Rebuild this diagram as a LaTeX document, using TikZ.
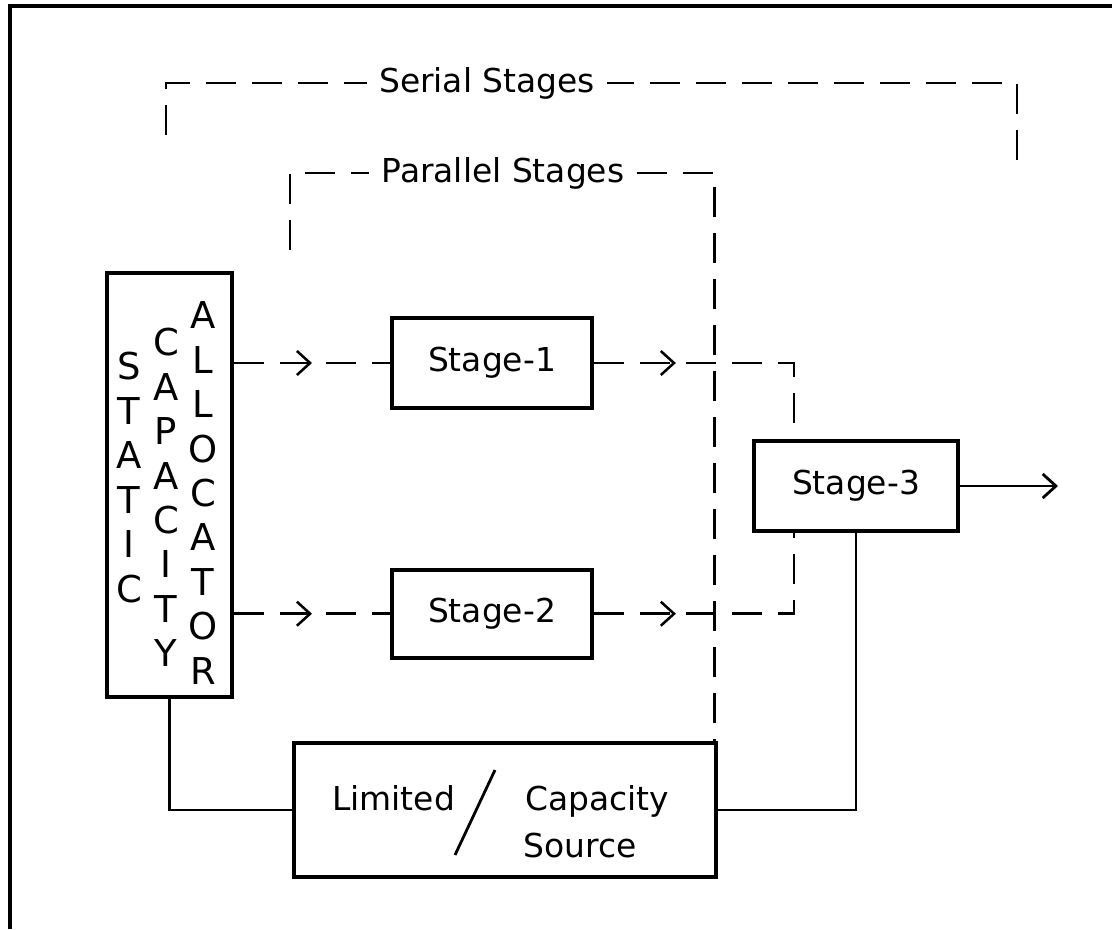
\documentclass[tikz,border=0pt]{standalone}
\usepackage{fontspec}
\setmainfont{DejaVu Sans}
\usetikzlibrary{arrows.meta, positioning, decorations.markings}

\tikzset{midarr/.style={postaction={decorate},
    decoration={markings, mark=at position #1 with {\arrow{Straight Barb[length=3.3mm, width=6mm]}}}}}

\begin{document}
\begin{tikzpicture}[x=0.025cm, y=-0.025cm]
    \tikzstyle{box} = [rectangle, draw=black, line width=2.6pt, inner sep=0pt,
                       font=\fontsize{23.4}{33}\selectfont]
    \tikzstyle{lbl} = [inner ysep=0pt, inner xsep=0.3cm, font=\fontsize{23.4}{33}\selectfont]
    \tikzstyle{letters} = [inner sep=0pt, align=center, font=\fontsize{26.3}{31.6}\selectfont]
    \tikzstyle{wire} = [line width=2pt]
    \tikzstyle{dashline} = [line width=1.8pt, dash pattern=on 0.75cm off 0.4cm]

    \useasboundingbox (0,0) rectangle (1112,929);
    \draw[line width=3pt] (10,929) -- (10,6) -- (1112,6);

    % allocator
    \node (alloc) [box, minimum width=3.125cm, minimum height=10.6cm] at (169.5,485) {};
    \node (allocS) [letters] at (129,477.5) {S\\T\\A\\T\\I\\C};
    \node (allocC) [letters] at (166,497.5) {C\\A\\P\\A\\C\\I\\T\\Y};
    \node (allocA) [letters] at (203,493) {A\\L\\L\\O\\C\\A\\T\\O\\R};

    % stages
    \node (stage1) [box, minimum width=5cm, minimum height=2.25cm] at (492,363) {Stage-1};
    \node (stage2) [box, minimum width=5cm, minimum height=2.2cm, below=3.95cm of stage1] {Stage-2};
    \node (stage3) [box, minimum width=5.1cm, minimum height=2.25cm] at (856,486) {Stage-3};

    % source
    \node (source) [box, minimum width=10.55cm, minimum height=3.35cm] at (505,810) {};
    \node (limited)  [lbl, inner xsep=0pt, anchor=base west] at (332,810) {Limited};
    \node (capacity) [lbl, inner xsep=0pt, anchor=base west] at (525,810) {Capacity};
    \node (srcword)  [lbl, inner xsep=0pt, anchor=base west] at (523,857) {Source};
    \draw[wire] (455,855) -- (495,770);

    % brackets
    \node (serial)   [lbl] at (487,83)  {Serial Stages};
    \node (parallel) [lbl] at (503,173) {Parallel Stages};
    \coordinate (serialL)   at (166,135);
    \coordinate (serialR)   at (1017,160);
    \coordinate (parallelL) at (290,250);
    \draw[dashline] (serialL) |- (serial.west);
    \draw[dashline] (serialR) |- (serial.east);
    \draw[dashline] (parallelL) |- (parallel.west);
    \draw[dashline] (parallel.east) -| ([xshift=-0.08cm]source.north east);

    % connectors
    \draw[dashline, midarr=0.5] (alloc.east |- stage1.west) -- (stage1.west);
    \draw[dashline, midarr=0.5] (alloc.east |- stage2.west) -- (stage2.west);
    \draw[dashline, midarr=2.05cm] (stage1.east) -| ([xshift=1.05cm]stage3.north west);
    \draw[dashline, midarr=2.05cm] (stage2.east) -| ([xshift=1.05cm]stage3.south west);
    \draw[wire] (alloc.south) |- (source.west);
    \draw[wire] (source.east) -| (stage3.south);
    \coordinate (outlet) at (1058,486);
    \draw[wire, -{Straight Barb[length=3.3mm, width=6mm]}] (stage3.east) -- (outlet);
\end{tikzpicture}
\end{document}
